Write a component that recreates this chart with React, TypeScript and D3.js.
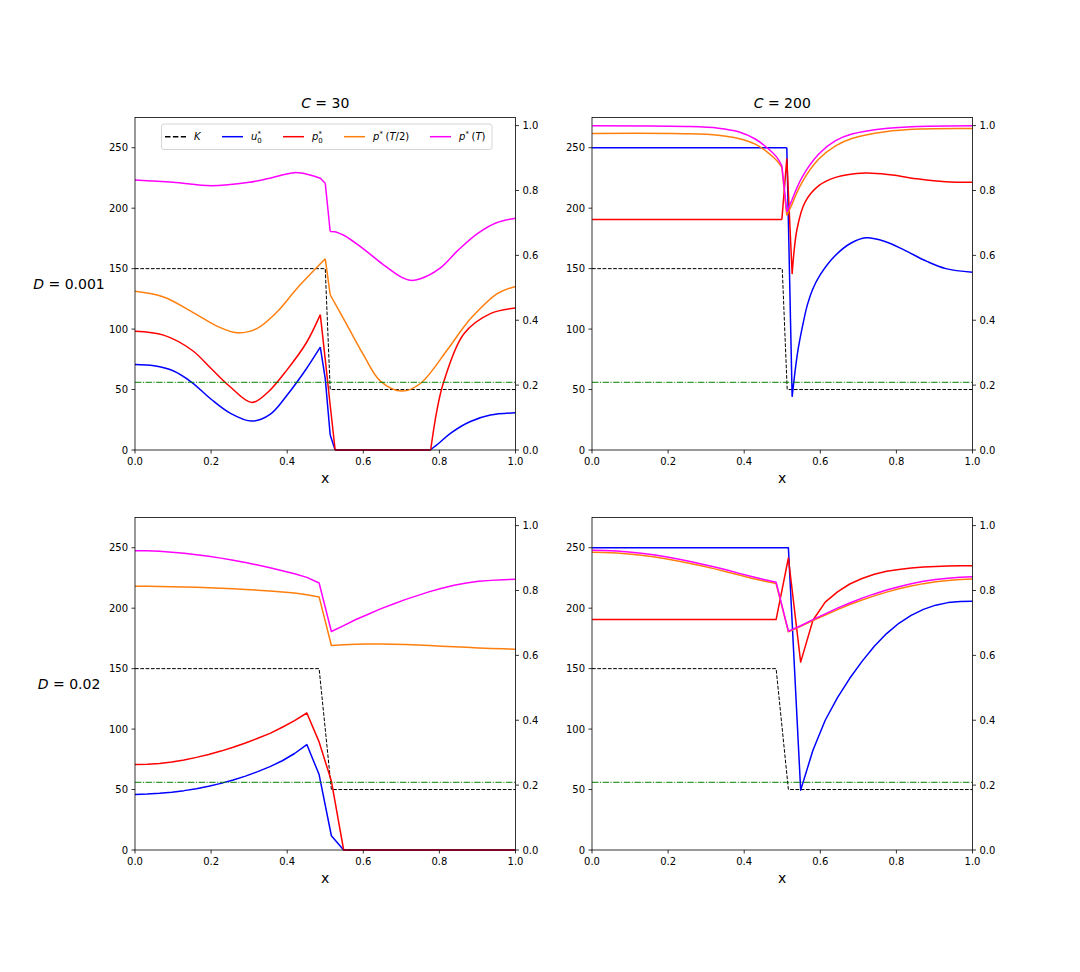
import * as d3 from 'd3';
import React from 'react';

type Pt = [number, number];

// ticks
const xTicks = [0, 0.2, 0.4, 0.6, 0.8, 1.0];
const leftTicks = [0, 50, 100, 150, 200, 250];
const rightTicks = [0, 0.2, 0.4, 0.6, 0.8, 1.0];

const titles = ['30', '200'];
const rowLabels = ['0.001', '0.02'];
const threshold = 56;

// top row (D = 0.001): [x, value] pairs
const kTop: Pt[] = [[0, 150], [0.5, 150], [0.513, 50], [1, 50]];

const tlU: Pt[] = [[0, 70.7], [0.05, 69.6], [0.1, 65.5], [0.149, 56], [0.2, 42], [0.25, 30.5], [0.307, 23.9], [0.355, 29.5], [0.4, 45.5], [0.45, 67], [0.487, 85], [0.5, 59], [0.513, 12.4], [0.526, 0], [0.776, 0], [0.8, 6], [0.829, 13.8], [0.88, 23.4], [0.934, 28.9], [1, 30.8]];
const tlP0: Pt[] = [[0, 98.2], [0.075, 95], [0.15, 82.5], [0.2, 67.4], [0.25, 52.3], [0.307, 39.3], [0.35, 48], [0.4, 66.5], [0.45, 88.5], [0.487, 112], [0.5, 75], [0.513, 37], [0.526, 0], [0.777, 0], [0.793, 32], [0.811, 56], [0.864, 96], [0.934, 112.8], [1, 117.4]];
const tlHalf: Pt[] = [[0, 131.2], [0.075, 126.5], [0.162, 112], [0.215, 102.5], [0.268, 97], [0.32, 100.4], [0.373, 114.1], [0.425, 133.4], [0.5, 158.1], [0.513, 128.4], [0.557, 103.4], [0.601, 78.4], [0.645, 57], [0.702, 48.7], [0.75, 55], [0.82, 82.5], [0.864, 101.8], [0.89, 111.4], [0.952, 129.3], [1, 135.3]];
const tlFull: Pt[] = [[0, 223.3], [0.1, 221.4], [0.2, 218.6], [0.3, 221.4], [0.35, 224.5], [0.42, 229.4], [0.46, 227.4], [0.487, 224.7], [0.5, 220.6], [0.513, 180.7], [0.526, 180.5], [0.55, 177.4], [0.6, 166.4], [0.65, 154], [0.7, 143], [0.724, 140.3], [0.75, 141.6], [0.8, 150], [0.85, 165.5], [0.9, 179], [0.95, 188], [1, 191.7]];

const trU: Pt[] = [[0, 250], [0.512, 250], [0.526, 44], [0.54, 80], [0.553, 102], [0.566, 120], [0.58, 133], [0.6, 145], [0.64, 161], [0.68, 171], [0.72, 175.5], [0.77, 172.5], [0.82, 165.5], [0.88, 156], [0.93, 150], [1, 147]];
const trP0: Pt[] = [[0, 190.6], [0.499, 190.6], [0.512, 241], [0.526, 145.5], [0.539, 183], [0.56, 205], [0.596, 218.6], [0.64, 225.5], [0.718, 229.1], [0.789, 227.4], [0.859, 224.1], [0.929, 221.9], [1, 221.4]];
const trHalf: Pt[] = [[0, 261.8], [0.245, 261.6], [0.332, 260.4], [0.385, 257.7], [0.429, 253], [0.464, 245.6], [0.486, 239.3], [0.499, 233.8], [0.512, 194], [0.525, 202.7], [0.552, 221.4], [0.596, 240.6], [0.64, 251.6], [0.683, 257.7], [0.771, 263.2], [0.859, 265.4], [1, 265.9]];
const trFull: Pt[] = [[0, 268.2], [0.245, 267.6], [0.332, 266.2], [0.385, 263.2], [0.429, 257.2], [0.464, 248.9], [0.486, 242], [0.499, 235.1], [0.512, 197], [0.525, 206.3], [0.552, 225.5], [0.596, 244.8], [0.64, 255.8], [0.683, 261.3], [0.771, 265.9], [0.859, 267.6], [1, 268.2]];

// x positions where the top-row curves have corners
const tlBreaks = [0.487, 0.5, 0.513, 0.526, 0.776, 0.777];
const trBreaks = [0.499, 0.512, 0.525, 0.526];

// bottom row (D = 0.02): values on a 32 point grid
const gridX = d3.range(32).map((i) => i / 31);
const kBottom: Pt[] = [[0, 150], [gridX[15], 150], [gridX[16], 50], [1, 50]];

const blU = [46, 46.3, 46.9, 47.8, 49.1, 50.7, 52.7, 55.1, 57.9, 61.1, 64.8, 69, 73.8, 79.8, 87.2, 62.4, 11.8, 0, 0, 0, 0, 0, 0, 0, 0, 0, 0, 0, 0, 0, 0, 0];
const blP0 = [70.7, 70.9, 71.6, 72.8, 74.5, 76.6, 79, 81.8, 85, 88.5, 92.4, 96.5, 101.5, 107, 113.3, 89.4, 57, 0, 0, 0, 0, 0, 0, 0, 0, 0, 0, 0, 0, 0, 0, 0];
const blHalf = [218.1, 218.1, 218, 217.8, 217.6, 217.3, 216.9, 216.5, 216, 215.5, 214.9, 214.2, 213.4, 212.5, 211.2, 209.3, 169.1, 169.8, 170.2, 170.4, 170.4, 170.2, 169.9, 169.5, 169.1, 168.6, 168.1, 167.6, 167.1, 166.7, 166.4, 166.1];
const blFull = [247.5, 247.4, 247, 246.3, 245.4, 244.2, 242.9, 241.4, 239.7, 237.8, 235.7, 233.4, 231, 228.4, 225.5, 220.8, 180.7, 185.6, 190.6, 195, 199.4, 203.2, 207.1, 210.4, 213.7, 216.5, 218.9, 220.8, 222.2, 223, 223.6, 223.9];

const brU = [250, 250, 250, 250, 250, 250, 250, 250, 250, 250, 250, 250, 250, 250, 250, 250, 250, 49.5, 82.5, 107.3, 126, 142, 156, 168.5, 179, 187.5, 194, 199, 202.5, 204.6, 205.5, 205.8];
const brP0 = [190.6, 190.6, 190.6, 190.6, 190.6, 190.6, 190.6, 190.6, 190.6, 190.6, 190.6, 190.6, 190.6, 190.6, 190.6, 190.6, 241.5, 155.4, 190, 205, 213.5, 220, 224.5, 228, 230.5, 232, 233.3, 234, 234.5, 234.8, 235, 235.1];
const brHalf = [246.3, 246.1, 245.6, 244.8, 243.8, 242.5, 240.9, 239, 237, 234.8, 232.5, 230, 227.4, 224.8, 222.5, 220.4, 180.5, 185, 189.8, 194.4, 198.8, 203, 206.8, 210.2, 213.3, 216, 218.3, 220.3, 221.8, 222.9, 223.7, 224.1];
const brFull = [248, 247.8, 247.3, 246.5, 245.5, 244.2, 242.6, 240.7, 238.6, 236.4, 234, 231.5, 228.8, 226.2, 223.8, 221.4, 181, 185.5, 190.5, 195.3, 200, 204.3, 208.3, 211.8, 215, 217.8, 220.2, 222.2, 223.7, 224.8, 225.5, 226];

const onGrid = (vals: number[]): Pt[] => vals.map((v, i) => [gridX[i], v]);

// cut a series into pieces at its corner points
const splitAt = (data: Pt[], breaks: number[]): Pt[][] => {
  const out: Pt[][] = [];
  let cur: Pt[] = [];
  data.forEach((p) => {
    cur.push(p);
    if (breaks.includes(p[0]) && cur.length > 1) {
      out.push(cur);
      cur = [p];
    }
  });
  if (cur.length > 1) out.push(cur);
  return out;
};

const FONT = 'DejaVu Sans';
const PW = 380.5;
const PH = 332.5;

const colors = { u: '#0000ff', p0: '#ff0000', half: '#ff7f0e', full: '#ff00ff' };

interface PanelProps {
  left: number;
  top: number;
  k: Pt[];
  u: Pt[];
  p0: Pt[];
  half: Pt[];
  full: Pt[];
  breaks: number[] | null;
  id: string;
}

const Panel: React.FC<PanelProps> = ({ left, top, k, u, p0, half, full, breaks, id }) => {
  const x = d3.scaleLinear().domain([0, 1]).range([left, left + PW]);
  const y = d3.scaleLinear().domain([0, 275]).range([top + PH, top]);
  const yR = d3.scaleLinear().domain([0, 1.025]).range([top + PH, top]);
  const straight = d3.line<Pt>().x((d) => x(d[0])).y((d) => y(d[1]));
  const smooth = d3
    .line<Pt>()
    .x((d) => x(d[0]))
    .y((d) => y(d[1]))
    .curve(d3.curveCatmullRom.alpha(0.5));
  const path = (data: Pt[]) =>
    breaks ? splitAt(data, breaks).map((s) => smooth(s) || '').join('') : straight(data) || '';
  const bottom = top + PH;
  const right = left + PW;

  return (
    <g fontFamily={FONT}>
      <defs>
        <clipPath id={id}>
          <rect x={left} y={top - 2} width={PW} height={PH + 4} />
        </clipPath>
      </defs>
      <g clipPath={`url(#${id})`} fill="none" strokeLinejoin="round">
        <path d={straight(k) || ''} stroke="#000" strokeWidth={1} strokeDasharray="3.7,1.6" />
        <path d={path(u)} stroke={colors.u} strokeWidth={1.5} />
        <path d={path(p0)} stroke={colors.p0} strokeWidth={1.5} />
        <path d={path(half)} stroke={colors.half} strokeWidth={1.5} />
        <path d={path(full)} stroke={colors.full} strokeWidth={1.5} />
        <path
          d={straight([[0, threshold], [1, threshold]]) || ''}
          stroke="#008000"
          strokeWidth={1}
          strokeDasharray="6.4,1.6,1,1.6"
        />
      </g>
      <rect x={left} y={top} width={PW} height={PH} fill="none" stroke="#000" strokeWidth={0.8} />
      {xTicks.map((t) => (
        <g key={`x${t}`}>
          <line x1={x(t)} x2={x(t)} y1={bottom} y2={bottom + 3.5} stroke="#000" strokeWidth={0.8} />
          <text x={x(t)} y={bottom + 15} fontSize={10} textAnchor="middle">
            {t.toFixed(1)}
          </text>
        </g>
      ))}
      {leftTicks.map((t) => (
        <g key={`l${t}`}>
          <line x1={left - 3.5} x2={left} y1={y(t)} y2={y(t)} stroke="#000" strokeWidth={0.8} />
          <text x={left - 7} y={y(t)} dy="0.35em" fontSize={10} textAnchor="end">
            {t}
          </text>
        </g>
      ))}
      {rightTicks.map((t) => (
        <g key={`r${t}`}>
          <line x1={right} x2={right + 3.5} y1={yR(t)} y2={yR(t)} stroke="#000" strokeWidth={0.8} />
          <text x={right + 7} y={yR(t)} dy="0.35em" fontSize={10} textAnchor="start">
            {t.toFixed(1)}
          </text>
        </g>
      ))}
      <text x={left + PW / 2} y={bottom + 33} fontSize={14} textAnchor="middle">
        x
      </text>
    </g>
  );
};

const Legend: React.FC = () => {
  const cy = 136.7;
  const handles = [165, 222, 283, 344, 430];
  const styles = [
    { c: '#000', dash: '5.5,2.4' },
    { c: colors.u, dash: '' },
    { c: colors.p0, dash: '' },
    { c: colors.half, dash: '' },
    { c: colors.full, dash: '' },
  ];
  const ty = cy + 3.6;
  const it = { fontStyle: 'italic' as const };
  const star = (bx: number) => (
    <text x={bx + 6.6} y={ty - 4.2} fontSize={7}>*</text>
  );
  const sub0 = (bx: number) => (
    <text x={bx + 6.3} y={ty + 2.6} fontSize={7}>0</text>
  );
  const lx = handles.map((h) => h + 29);
  return (
    <g fontFamily={FONT} fontSize={10}>
      <rect x={161.5} y={124} width={330.5} height={25.5} rx={2.5} fill="#fff" fillOpacity={0.8} stroke="#cccccc" strokeWidth={0.8} />
      {handles.map((h, i) => (
        <line key={i} x1={h} x2={h + 21} y1={cy} y2={cy} stroke={styles[i].c} strokeWidth={1.5} strokeDasharray={styles[i].dash || undefined} />
      ))}
      <text x={lx[0]} y={ty} style={it}>K</text>
      <text x={lx[1]} y={ty} style={it}>u</text>
      {star(lx[1])}
      {sub0(lx[1])}
      <text x={lx[2]} y={ty} style={it}>p</text>
      {star(lx[2])}
      {sub0(lx[2])}
      <text x={lx[3]} y={ty} style={it}>p</text>
      {star(lx[3])}
      <text x={lx[3] + 12.5} y={ty}>
        (<tspan style={it}>T</tspan>/2)
      </text>
      <text x={lx[4]} y={ty} style={it}>p</text>
      {star(lx[4])}
      <text x={lx[4] + 12.5} y={ty}>
        (<tspan style={it}>T</tspan>)
      </text>
    </g>
  );
};

const App: React.FC = () => {
  const lefts = [135, 592];
  const tops = [117.5, 517.5];
  return (
    <svg
      width={1080}
      height={972}
      viewBox="0 0 1080 972"
      style={{ position: 'absolute', left: 0, top: 0, background: '#fff' }}
    >
      <rect width={1080} height={972} fill="#fff" />
      <Panel id="c0" left={lefts[0]} top={tops[0]} k={kTop} u={tlU} p0={tlP0} half={tlHalf} full={tlFull} breaks={tlBreaks} />
      <Panel id="c1" left={lefts[1]} top={tops[0]} k={kTop} u={trU} p0={trP0} half={trHalf} full={trFull} breaks={trBreaks} />
      <Panel id="c2" left={lefts[0]} top={tops[1]} k={kBottom} u={onGrid(blU)} p0={onGrid(blP0)} half={onGrid(blHalf)} full={onGrid(blFull)} breaks={null} />
      <Panel id="c3" left={lefts[1]} top={tops[1]} k={kBottom} u={onGrid(brU)} p0={onGrid(brP0)} half={onGrid(brHalf)} full={onGrid(brFull)} breaks={null} />
      <Legend />
      {titles.map((t, i) => (
        <text key={t} x={lefts[i] + PW / 2} y={107.5} fontFamily={FONT} fontSize={14} textAnchor="middle">
          <tspan fontStyle="italic">C</tspan> = {t}
        </text>
      ))}
      {rowLabels.map((t, i) => (
        <text key={t} x={69} y={tops[i] + PH / 2 + 5} fontFamily={FONT} fontSize={14} textAnchor="middle">
          <tspan fontStyle="italic">D</tspan> = {t}
        </text>
      ))}
    </svg>
  );
};

export default App;
